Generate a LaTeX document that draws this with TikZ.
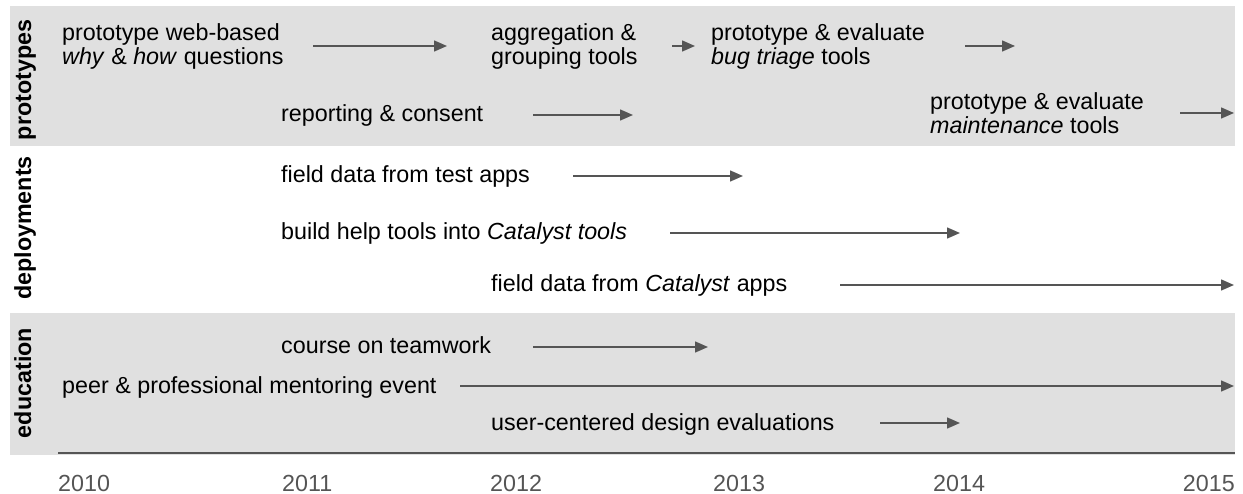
\documentclass[tikz,border=0pt]{standalone}
\usepackage{fontspec}
\setmainfont{Liberation Sans}
\usetikzlibrary{arrows.meta}
\definecolor{band}{HTML}{E0E0E0}
\definecolor{ink}{HTML}{555555}
\tikzset{
  lbl/.style={anchor=base west, inner sep=0pt, align=left, font=\fontsize{23.3}{24}\selectfont},
  cat/.style={anchor=base, inner sep=0pt, rotate=90, font=\fontsize{23.3}{24}\selectfont\bfseries},
  yr/.style={anchor=base west, inner sep=0pt, text=ink, font=\fontsize{23.3}{24}\selectfont},
  arr/.style={draw=ink, line width=1.5pt, -{Triangle[length=13pt,width=11pt]}, fill=ink},
}
\begin{document}
\begin{tikzpicture}[x=1pt,y=-1pt]
\useasboundingbox (0,0) rectangle (1243,494);
\fill[band] (10,6) rectangle (1235,146);
\fill[band] (10,313) rectangle (1235,455);
\draw[ink, line width=2pt] (58,453) -- (1235,453);
% category labels
\node[cat] (cp) at (31,80) {prototypes};
\node[cat] (cd) at (31,228) {deployments};
\node[cat] (ce) at (31,383) {education};
% prototypes (base anchor = baseline of last line)
\node[lbl] (p1) at (62,65) {prototype web-based\\\textit{why} \& \textit{how} questions};
\node[lbl] (p2) at (491,65) {aggregation \&\\grouping tools};
\node[lbl] (p3) at (711,65) {prototype \& evaluate\\\textit{bug triage} tools};
\node[lbl] (p4) at (281,122) {reporting \& consent};
\node[lbl] (p5) at (930,134) {prototype \& evaluate\\\textit{maintenance} tools};
\coordinate (a1s) at (313,46); \coordinate (a1e) at (447,46);
\coordinate (a2s) at (672,46); \coordinate (a2e) at (695,46);
\coordinate (a3s) at (965,46); \coordinate (a3e) at (1015,46);
\coordinate (a4s) at (533,115); \coordinate (a4e) at (633,115);
\coordinate (a5s) at (1180,113); \coordinate (a5e) at (1234,113);
\draw[arr] (a1s) -- (a1e);
\draw[arr] (a2s) -- (a2e);
\draw[arr] (a3s) -- (a3e);
\draw[arr] (a4s) -- (a4e);
\draw[arr] (a5s) -- (a5e);
% deployments
\node[lbl] (d1) at (281,183) {field data from test apps};
\node[lbl] (d2) at (281,240) {build help tools into \textit{Catalyst tools}};
\node[lbl] (d3) at (491,292) {field data from \textit{Catalyst} apps};
\coordinate (b1s) at (573,176); \coordinate (b1e) at (743,176);
\coordinate (b2s) at (670,233); \coordinate (b2e) at (960,233);
\coordinate (b3s) at (840,285); \coordinate (b3e) at (1234,285);
\draw[arr] (b1s) -- (b1e);
\draw[arr] (b2s) -- (b2e);
\draw[arr] (b3s) -- (b3e);
% education
\node[lbl] (e1) at (281,354) {course on teamwork};
\node[lbl] (e2) at (62,393) {peer \& professional mentoring event};
\node[lbl] (e3) at (491,430) {user-centered design evaluations};
\coordinate (c1s) at (533,347); \coordinate (c1e) at (708,347);
\coordinate (c2s) at (460,386); \coordinate (c2e) at (1234,386);
\coordinate (c3s) at (880,423); \coordinate (c3e) at (960,423);
\draw[arr] (c1s) -- (c1e);
\draw[arr] (c2s) -- (c2e);
\draw[arr] (c3s) -- (c3e);
% years
\node[yr] (y0) at (58,491) {2010};
\node[yr] (y1) at (282,491) {2011};
\node[yr] (y2) at (490,491) {2012};
\node[yr] (y3) at (713,491) {2013};
\node[yr] (y4) at (933,491) {2014};
\node[yr, anchor=base east] (y5) at (1235,491) {2015};
\end{tikzpicture}
\end{document}
